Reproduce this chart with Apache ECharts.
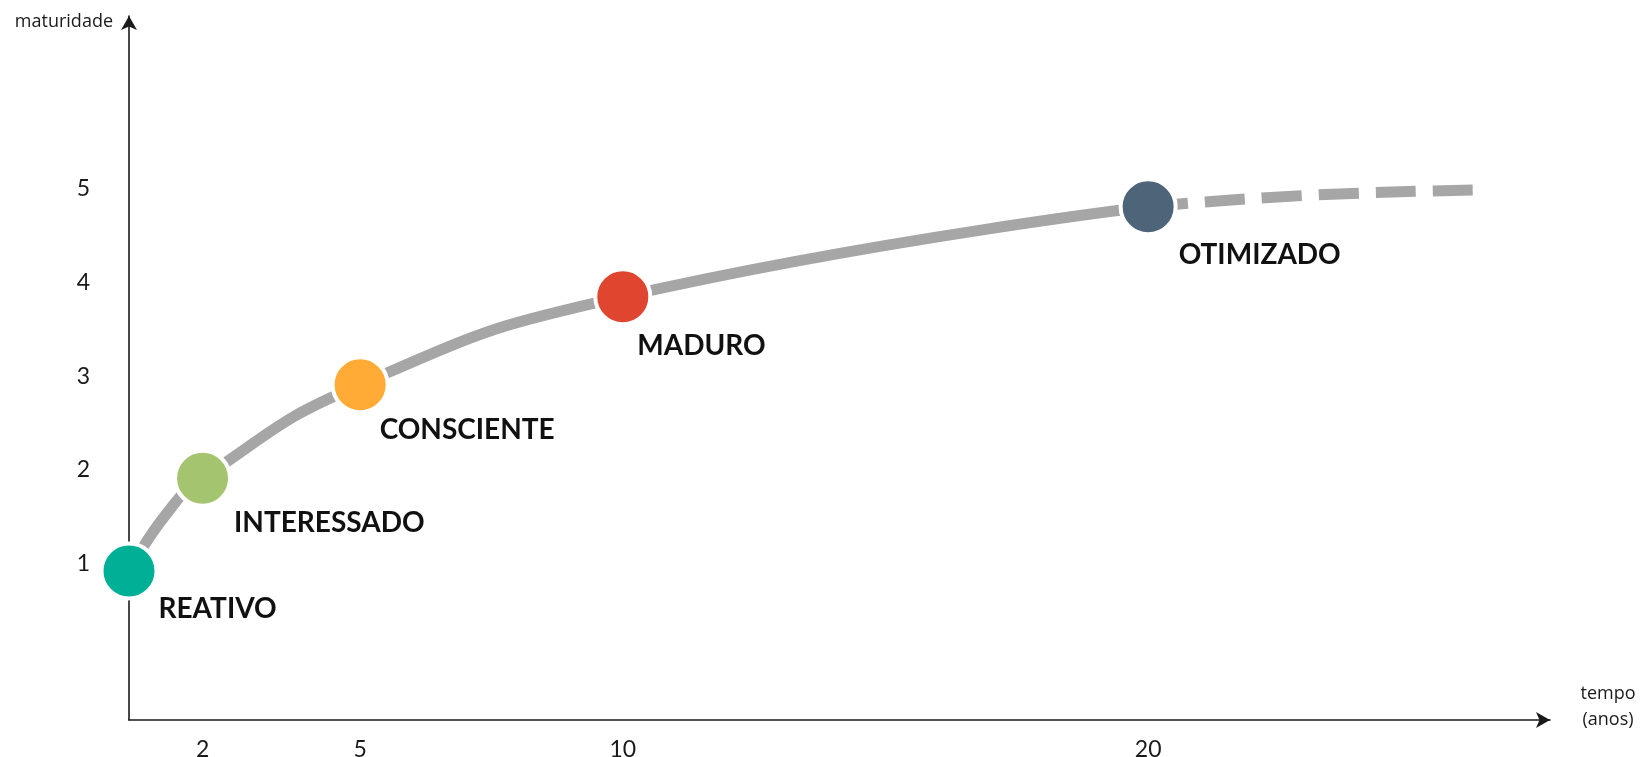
<!DOCTYPE html>
<html>
<head>
<meta charset="utf-8">
<title>Maturidade ao longo do tempo</title>
<script src="https://cdn.jsdelivr.net/npm/echarts@6/dist/echarts.min.js"></script>
<style>
  html, body { margin: 0; padding: 0; background: #ffffff; }
  #chart { width: 1642px; height: 757px; }
</style>
</head>
<body>
<div id="chart"></div>
<script>
// Maturity stages: time (years) and maturity level
const stageNames  = ['REATIVO', 'INTERESSADO', 'CONSCIENTE', 'MADURO', 'OTIMIZADO'];
const stageYears  = [0.6, 2, 5, 10, 20];
const stageLevels = [0.92, 1.91, 2.91, 3.85, 4.81];
const stageColors = ['#00b096', '#a5c46f', '#ffab36', '#e04530', '#4e6479'];

// Solid growth curve through the stages
const curveYears  = [0.6, 1.3, 2, 5, 10, 20];
const curveLevels = [0.92, 1.52, 1.91, 2.91, 3.85, 4.81];

// Dashed continuation beyond the last stage
const trendYears  = [20, 22.95, 26.36];
const trendLevels = [4.81, 4.93, 4.99];

// Axis tick labels
const xTickValues = [2, 5, 10, 20];
const yTickValues = [1, 2, 3, 4, 5];

// Per-stage nudges for the stage captions (px)
const captionNudge = [[2, -3], [4, 3], [-8, 4], [-13, 8], [3, 7]];

const zip = (xs, ys) => xs.map((x, i) => [x, ys[i]]);

const chart = echarts.init(document.getElementById('chart'), null, { renderer: 'canvas' });

const axisColor = '#1a1a1a';
const tickFont = { fontFamily: 'Lato', fontSize: 23, color: '#1a1a1a' };

chart.setOption({
  animation: false,
  backgroundColor: '#ffffff',
  grid: { left: 129, right: 92, top: 16, bottom: 37, containLabel: false, outerBoundsMode: 'none' },
  xAxis: {
    type: 'value',
    min: 0.6,
    max: 27.65,
    // trailing empty line keeps the two-line name sitting above the arrow
    name: 'tempo\n(anos)\n',
    nameLocation: 'end',
    nameGap: 58,
    nameMoveOverlap: false,
    nameTextStyle: {
      fontFamily: 'Open Sans', fontSize: 18, color: '#1a1a1a',
      align: 'center', verticalAlign: 'middle', lineHeight: 26
    },
    axisLine: {
      show: true,
      onZero: false,
      symbol: ['none', 'arrow'],
      symbolSize: [12, 14],
      lineStyle: { color: axisColor, width: 1.6 }
    },
    axisTick: { show: false },
    splitLine: { show: false },
    axisLabel: Object.assign({ customValues: xTickValues, margin: 18 }, tickFont)
  },
  yAxis: {
    type: 'value',
    min: -0.672,
    max: 6.848,
    name: 'maturidade',
    nameLocation: 'end',
    nameGap: -6,
    nameMoveOverlap: false,
    nameTextStyle: {
      fontFamily: 'Open Sans', fontSize: 18, color: '#1a1a1a',
      align: 'right', verticalAlign: 'middle',
      padding: [0, 16, 0, 0]
    },
    axisLine: {
      show: true,
      onZero: false,
      symbol: ['none', 'arrow'],
      symbolSize: [12, 14],
      lineStyle: { color: axisColor, width: 1.6 }
    },
    axisTick: { show: false },
    splitLine: { show: false },
    axisLabel: Object.assign({ customValues: yTickValues, margin: 39 }, tickFont)
  },
  series: [
    {
      type: 'line',
      data: zip(curveYears, curveLevels),
      smooth: 0.5,
      showSymbol: false,
      lineStyle: { color: '#a6a6a6', width: 11, cap: 'butt' },
      z: 2
    },
    {
      type: 'line',
      data: zip(trendYears, trendLevels),
      smooth: 0.5,
      showSymbol: false,
      lineStyle: { color: '#a6a6a6', width: 11, type: [40, 17], cap: 'butt' },
      z: 2
    },
    {
      type: 'scatter',
      data: stageNames.map((n, i) => ({
        name: n,
        value: [stageYears[i], stageLevels[i]],
        itemStyle: { color: stageColors[i] },
        label: { position: [57 + captionNudge[i][0], 71 + captionNudge[i][1]] }
      })),
      symbol: 'circle',
      symbolSize: 55,
      itemStyle: { borderColor: '#ffffff', borderWidth: 4, opacity: 1 },
      label: {
        show: true,
        formatter: '{b}',
        align: 'left',
        verticalAlign: 'middle',
        fontFamily: 'Lato',
        fontWeight: 'bold',
        fontSize: 28,
        color: '#111111'
      },
      z: 3
    }
  ]
});
</script>
</body>
</html>
